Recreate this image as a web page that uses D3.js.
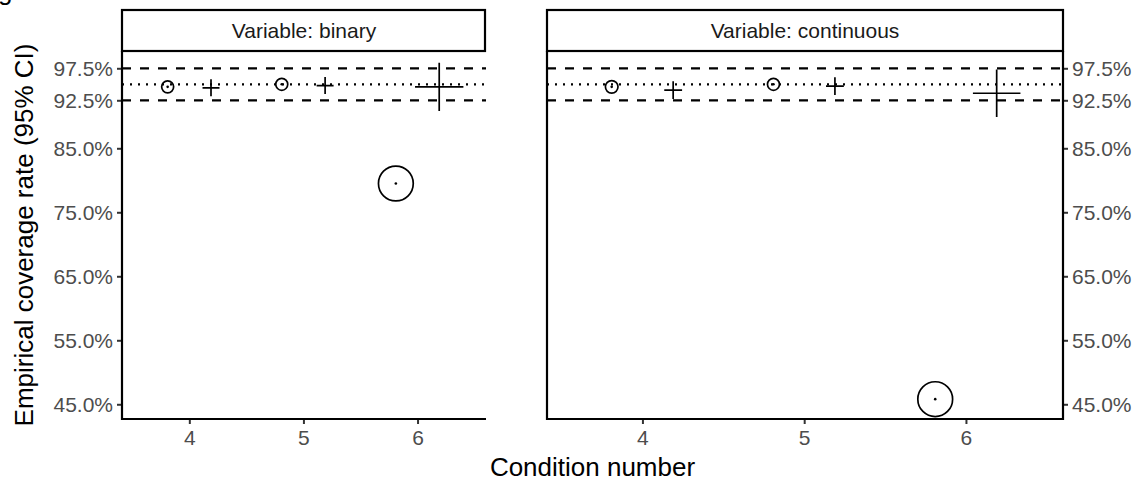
<!DOCTYPE html>
<html>
<head>
<meta charset="utf-8">
<script src="https://cdn.jsdelivr.net/npm/d3@7"></script>
<style>
  body { margin: 0; background: #fff; }
  svg { font-family: "Liberation Sans", Arial, sans-serif; }
</style>
</head>
<body>
<svg id="chart" width="1142" height="485"></svg>
<script>
// Data
const conditions = [4, 5, 6];
const yTicks = [45, 55, 65, 75, 85, 92.5, 97.5];
const refLower = 92.5, refNominal = 95, refUpper = 97.5;

// circle = left dodge, plus = right dodge
const binaryCircle = [94.6, 95.0, 79.5];
const binaryPlus = [94.45, 94.8, 94.6];
const binaryCircleSize = [1, 1, 2.9];
const binaryPlusSize = [1, 1, 2.85];

const continuousCircle = [94.6, 95.0, 45.8];
const continuousPlus = [94.1, 94.7, 93.6];
const continuousCircleSize = [1.05, 1, 2.9];
const continuousPlusSize = [1.05, 1.05, 2.8];

const panels = [
  { label: "Variable: binary", circle: binaryCircle, plus: binaryPlus,
    circleSize: binaryCircleSize, plusSize: binaryPlusSize,
    x0: 122, x1: 486, axis: "left" },
  { label: "Variable: continuous", circle: continuousCircle, plus: continuousPlus,
    circleSize: continuousCircleSize, plusSize: continuousPlusSize,
    x0: 547, x1: 1063, axis: "right" }
];

const svg = d3.select("#chart");
const panelTop = 51, panelBottom = 419, stripTop = 10;
const dodge = 0.19;

const y = d3.scaleLinear().domain([42.7, 100.2]).range([panelBottom, panelTop]);
const rScale = d3.scaleLinear().domain([0, 1]).range([0, 6]);
const fmt = d => d3.format(".1f")(d) + "%";

// clipped letter at the top-left corner
svg.append("text")
  .attr("x", -2).attr("y", 0)
  .style("font-size", "26px")
  .text("g");

panels.forEach(p => {
  const x = d3.scaleLinear().domain([3.41, 6.6]).range([p.x0, p.x1]);
  const g = svg.append("g");

  // strip
  g.append("rect")
    .attr("x", p.x0).attr("y", stripTop)
    .attr("width", p.x1 - p.x0 - (p.axis === "left" ? 1 : 0)).attr("height", panelTop - stripTop)
    .attr("fill", "#fff").attr("stroke", "#000").attr("stroke-width", 2.2);
  g.append("text")
    .attr("x", (p.x0 + p.x1) / 2).attr("y", (stripTop + panelTop) / 2 + 7.5)
    .attr("text-anchor", "middle")
    .style("font-size", "21px").attr("fill", "#1a1a1a")
    .text(p.label);

  // reference lines
  [[refUpper, "9,9"], [refLower, "9,9"], [refNominal, "2,6"]].forEach(([v, dash]) => {
    g.append("line")
      .attr("x1", p.x0).attr("x2", p.x1)
      .attr("y1", y(v)).attr("y2", y(v))
      .attr("stroke", "#000").attr("stroke-width", 2.2)
      .attr("stroke-dasharray", dash);
  });

  // y axis
  const yAxis = (p.axis === "left" ? d3.axisLeft(y) : d3.axisRight(y))
    .tickValues(yTicks).tickFormat(fmt).tickSize(5).tickPadding(4);
  const ya = g.append("g")
    .attr("transform", `translate(${p.axis === "left" ? p.x0 : p.x1},0)`)
    .call(yAxis);
  ya.select(".domain").remove();
  ya.selectAll("line").attr("stroke", "#333").attr("stroke-width", 2);
  ya.selectAll("text").style("font-size", "21px").attr("fill", "#4d4d4d");

  // x axis
  const xa = g.append("g")
    .attr("transform", `translate(0,${panelBottom})`)
    .call(d3.axisBottom(x).tickValues(conditions).tickFormat(d3.format("d")).tickSize(5).tickPadding(6));
  xa.select(".domain").remove();
  xa.selectAll("line").attr("stroke", "#333").attr("stroke-width", 2);
  xa.selectAll("text").style("font-size", "21px").attr("fill", "#4d4d4d");

  // panel frame lines
  g.append("line").attr("x1", p.x0).attr("x2", p.x1).attr("y1", panelBottom).attr("y2", panelBottom)
    .attr("stroke", "#000").attr("stroke-width", 2.2);
  g.append("line").attr("x1", p.x0).attr("x2", p.x0).attr("y1", panelTop).attr("y2", panelBottom + 1)
    .attr("stroke", "#000").attr("stroke-width", 2.2);
  if (p.axis === "right") {
    g.append("line").attr("x1", p.x1).attr("x2", p.x1).attr("y1", panelTop).attr("y2", panelBottom + 1)
      .attr("stroke", "#000").attr("stroke-width", 2.2);
  }

  // circles
  conditions.forEach((c, i) => {
    const cx = x(c - dodge), cy = y(p.circle[i]);
    g.append("circle").attr("cx", cx).attr("cy", cy)
      .attr("r", rScale(p.circleSize[i]))
      .attr("fill", "none").attr("stroke", "#000").attr("stroke-width", 1.7);
    g.append("circle").attr("cx", cx).attr("cy", cy).attr("r", 1.3).attr("fill", "#000");
  });

  // plus marks
  conditions.forEach((c, i) => {
    const cx = x(c + dodge), cy = y(p.plus[i]);
    const a = Math.SQRT2 * rScale(p.plusSize[i]);
    g.append("path")
      .attr("d", `M${cx - a},${cy}H${cx + a}M${cx},${cy - a}V${cy + a}`)
      .attr("stroke", "#000").attr("stroke-width", 1.7).attr("fill", "none");
  });
});

// axis titles
svg.append("text")
  .attr("x", (122 + 1063) / 2).attr("y", 476)
  .attr("text-anchor", "middle")
  .style("font-size", "26px")
  .text("Condition number");

svg.append("text")
  .attr("transform", `translate(33,${(panelTop + panelBottom) / 2}) rotate(-90)`)
  .attr("text-anchor", "middle")
  .style("font-size", "26px")
  .text("Empirical coverage rate (95% CI)");
</script>
</body>
</html>
